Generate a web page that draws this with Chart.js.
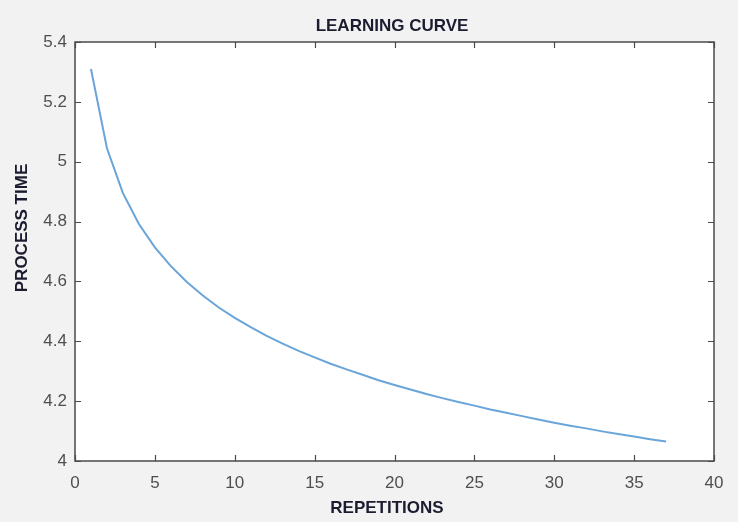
<!DOCTYPE html>
<html>
<head>
<meta charset="utf-8">
<script src="https://cdn.jsdelivr.net/npm/chart.js@4.4.0/dist/chart.umd.min.js"></script>
<style>
  html, body { margin: 0; padding: 0; background: #f2f2f2; }
  #wrap { width: 738px; height: 522px; }
</style>
</head>
<body>
<div id="wrap"><canvas id="c" width="738" height="522"></canvas></div>
<script>
const chartTitle = "LEARNING CURVE";
const xLabel = "REPETITIONS";
const yLabel = "PROCESS TIME";
const repetitions = [1,2,3,4,5,6,7,8,9,10,11,12,13,14,15,16,17,18,19,20,21,22,23,24,25,26,27,28,29,30,31,32,33,34,35,36,37];
const processTime = [5.310,5.045,4.895,4.792,4.714,4.651,4.598,4.553,4.513,4.478,4.447,4.418,4.392,4.368,4.346,4.325,4.306,4.288,4.270,4.254,4.239,4.224,4.210,4.197,4.185,4.172,4.161,4.150,4.139,4.128,4.118,4.109,4.099,4.090,4.082,4.073,4.065];
const xTicks = [0,5,10,15,20,25,30,35,40];
const yTicks = [4,4.2,4.4,4.6,4.8,5,5.2,5.4];

const FONT = '"Liberation Sans", Arial, sans-serif';

const boxPlugin = {
  id: 'boxPlugin',
  beforeDraw(chart) {
    const {ctx, chartArea: a} = chart;
    ctx.save();
    ctx.fillStyle = '#f2f2f2';
    ctx.fillRect(0, 0, chart.width, chart.height);
    ctx.fillStyle = '#ffffff';
    ctx.fillRect(a.left, a.top, a.right - a.left, a.bottom - a.top);
    ctx.restore();
  },
  afterDraw(chart) {
    const {ctx, chartArea: a, scales} = chart;
    ctx.save();
    ctx.strokeStyle = '#4a4a4a';
    ctx.lineWidth = 1.5;
    ctx.strokeRect(a.left, a.top, a.right - a.left, a.bottom - a.top);
    ctx.lineWidth = 1.2;
    const tl = 6;
    ctx.beginPath();
    xTicks.forEach(v => {
      const px = Math.round(scales.x.getPixelForValue(v)) + 0.5;
      ctx.moveTo(px, a.bottom); ctx.lineTo(px, a.bottom - tl);
      ctx.moveTo(px, a.top); ctx.lineTo(px, a.top + tl);
    });
    yTicks.forEach(v => {
      const py = Math.round(scales.y.getPixelForValue(v)) + 0.5;
      ctx.moveTo(a.left, py); ctx.lineTo(a.left + tl, py);
      ctx.moveTo(a.right, py); ctx.lineTo(a.right - tl, py);
    });
    ctx.stroke();

    // titles
    ctx.fillStyle = '#1c1c30';
    ctx.font = 'bold 17px ' + FONT;
    ctx.textAlign = 'center';
    ctx.textBaseline = 'middle';
    ctx.fillText(chartTitle, 392, 26);
    ctx.fillText(xLabel, 387, 508);
    ctx.translate(22, 228);
    ctx.rotate(-Math.PI / 2);
    ctx.fillText(yLabel, 0, 0);
    ctx.restore();
  }
};

new Chart(document.getElementById('c'), {
  type: 'line',
  data: {
    datasets: [{
      data: repetitions.map((r, i) => ({x: r, y: processTime[i]})),
      borderColor: '#6aa5da',
      borderWidth: 2,
      pointRadius: 0,
      fill: false,
      tension: 0
    }]
  },
  options: {
    responsive: false,
    animation: false,
    layout: { padding: { left: 0, right: 24, top: 42, bottom: 0 } },
    plugins: {
      legend: { display: false },
      tooltip: { enabled: false },
      title: { display: false }
    },
    scales: {
      x: {
        type: 'linear',
        min: 0, max: 40,
        afterFit(s) { s.height = 61; },
        afterBuildTicks(s) { s.ticks = xTicks.map(v => ({value: v})); },
        grid: { display: false, drawTicks: false },
        border: { display: false },
        ticks: {
          color: '#4f4f4f',
          padding: 12,
          maxRotation: 0,
          font: { family: FONT, size: 17 },
          callback: v => String(v)
        }
      },
      y: {
        type: 'linear',
        min: 4, max: 5.4,
        afterFit(s) { s.width = 75; },
        afterBuildTicks(s) { s.ticks = yTicks.map(v => ({value: v})); },
        grid: { display: false, drawTicks: false },
        border: { display: false },
        ticks: {
          color: '#4f4f4f',
          padding: 8,
          font: { family: FONT, size: 17 },
          callback: v => String(Math.round(v * 10) / 10)
        }
      }
    }
  },
  plugins: [boxPlugin]
});
</script>
</body>
</html>
